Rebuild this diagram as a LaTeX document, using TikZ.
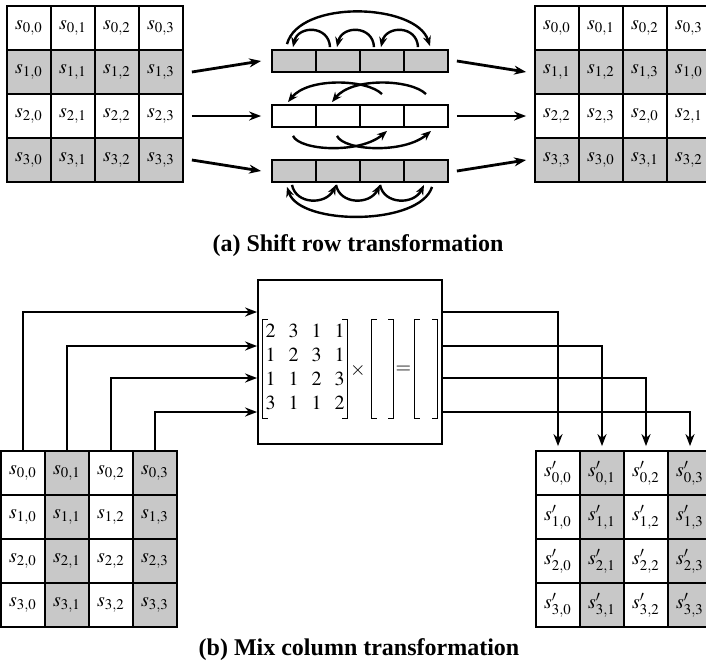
\documentclass[tikz,border=0pt]{standalone}
\usepackage{amsmath}
\usepackage{mathptmx}
\usepackage{fontspec}
\setmainfont{Liberation Serif}
\usetikzlibrary{arrows.meta}

\definecolor{cellgray}{RGB}{200,200,200}

% square brackets round a node
\newcommand{\bracketize}[1]{%
    \draw[line width=0.7pt] ([xshift=2.5pt]#1.north west) -| (#1.south west) -- ++(2.5pt,0);
    \draw[line width=0.7pt] ([xshift=-2.5pt]#1.north east) -| (#1.south east) -- ++(-2.5pt,0);}

\tikzset{
    cell/.style={draw, line width=0.9pt, minimum width=22pt, minimum height=22pt,
        inner sep=0pt, font=\fontsize{10}{12}\selectfont},
    slot/.style={draw, line width=0.9pt, minimum width=22pt, minimum height=11pt, inner sep=0pt},
    colvec/.style={inner sep=0pt, minimum height=49pt},
    conn/.style={line width=1.4pt, -{Stealth[length=6pt,width=4.5pt]}},
    hop/.style={line width=1.2pt, -{Stealth[length=5pt,width=4pt]}},
    caption/.style={font=\fontsize{12}{14}\selectfont\bfseries}
}

\begin{document}
\begin{tikzpicture}[x=0.5pt,y=0.5pt]
    \useasboundingbox (0,0) rectangle (706,-665);

    % (a) shift rows
    \foreach \r in {0,...,3}
        \foreach \c in {0,...,3} {
            \pgfmathtruncatemacro\sh{mod(\c+\r,4)}
            \ifodd\r \def\cf{cellgray}\else\def\cf{white}\fi
            \node[cell, fill=\cf] (sa-\r-\c) at ({29+44*\c},{-28-44*\r}) {$s_{\r,\c}$};
            \node[cell, fill=\cf] (sb-\r-\c) at ({557+44*\c},{-28-44*\r}) {$s_{\r,\sh}$};
        }
    \foreach \r/\y in {1/-61,2/-116,3/-171}
        \foreach \c in {0,...,3} {
            \ifodd\r \def\cf{cellgray}\else\def\cf{white}\fi
            \node[slot, fill=\cf] (bar-\r-\c) at ({294+44*\c},\y) {};
        }
    \foreach \r in {1,2,3} {
        \draw[conn] ([xshift=4pt]sa-\r-3.east) -- ([xshift=-5pt]bar-\r-0.west);
        \draw[conn] ([xshift=4pt]bar-\r-3.east) -- ([xshift=-4pt]sb-\r-0.west);
    }

    % row 1: one step left
    \foreach \c [evaluate=\c as \n using int(\c+1)] in {0,1,2}
        \draw[hop] ([xshift=-4pt,yshift=1pt]bar-1-\n.north) .. controls +(-1,22) and +(5,22) .. ([xshift=-0.5pt,yshift=1pt]bar-1-\c.north);
    \draw[hop] ([xshift=-3.5pt,yshift=2.5pt]bar-1-0.north) .. controls +(12,45) and +(-14,43) .. ([xshift=2pt,yshift=1.5pt]bar-1-3.north);

    % row 2: two steps left
    \foreach \c [evaluate=\c as \n using int(\c+2)] in {0,1} {
        \draw[hop] ([yshift=5pt]bar-2-\n.north) .. controls +(-15,15) and +(20,25) .. ([xshift=-3pt,yshift=1pt]bar-2-\c.north);
        \draw[hop] ([xshift=-0.5pt,yshift=-4pt]bar-2-\c.south) .. controls +(7,-15) and +(-27,-23) .. ([xshift=2.5pt,yshift=-1.5pt]bar-2-\n.south);
    }

    % row 3: three steps left
    \foreach \c [evaluate=\c as \n using int(\c+1)] in {0,1,2}
        \draw[hop] ([xshift=-1pt,yshift=-1pt]bar-3-\c.south) .. controls +(4,-20) and +(-10,-20) .. ([xshift=-1pt,yshift=-1pt]bar-3-\n.south);
    \draw[hop] ([xshift=3pt,yshift=-2pt]bar-3-3.south) .. controls +(-12,-39) and +(13,-39) .. ([xshift=-3.5pt,yshift=-2pt]bar-3-0.south);

    \node[caption] (capa) at (358,-246) {(a) Shift row transformation};

    % (b) mix columns
    \node[draw, line width=0.9pt, minimum width=92pt, minimum height=82pt] (mixbox) at (350,-362) {};
    \node[colvec, minimum width=42pt, font=\fontsize{10}{12}\selectfont] (mixmat) at (305,-369)
        {\arraycolsep=3.25pt$\begin{matrix}2&3&1&1\\1&2&3&1\\1&1&2&3\\3&1&1&2\end{matrix}$};
    \node[inner sep=0pt, font=\fontsize{10}{12}\selectfont] (times) at (358,-370) {$\times$};
    \node[colvec, minimum width=10.5pt] (colin) at (382.5,-369) {};
    \node[inner sep=0pt, font=\fontsize{10}{12}\selectfont] (equals) at (403.5,-370) {$=$};
    \node[colvec, minimum width=11pt] (colout) at (426,-369) {};
    \bracketize{mixmat}
    \bracketize{colin}
    \bracketize{colout}

    \foreach \r in {0,...,3}
        \foreach \c in {0,...,3} {
            \ifodd\c \def\cf{cellgray}\else\def\cf{white}\fi
            \node[cell, fill=\cf] (sc-\r-\c) at ({23+44*\c},{-473-44*\r}) {$s_{\r,\c}$};
            \node[cell, fill=\cf] (sd-\r-\c) at ({558+44*\c},{-473-44*\r}) {$s'_{\r,\c}$};
        }
    \foreach \c/\y in {0/-312,1/-346,2/-378,3/-412} {
        \draw[conn] (sc-0-\c.north) |- (mixbox.west |- 0,\y);
        \draw[conn] (mixbox.east |- 0,\y) -| ([yshift=2pt]sd-0-\c.north);
    }

    \node[caption] (capb) at (359,-650) {(b) Mix column transformation};
\end{tikzpicture}
\end{document}
